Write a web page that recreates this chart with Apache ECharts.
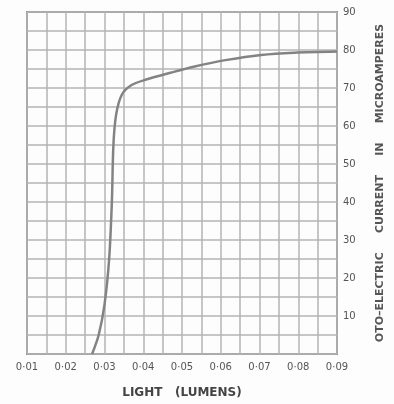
<!DOCTYPE html>
<html>
<head>
<meta charset="utf-8">
<script src="https://cdn.jsdelivr.net/npm/echarts@6/dist/echarts.min.js"></script>
<style>
  html, body { margin: 0; padding: 0; background: #fdfdfd; }
  #chart { width: 394px; height: 404px; }
</style>
</head>
<body>
<div id="chart"></div>
<script>
// light in lumens vs photo-electric current (microamperes)
var lightLumens = [0.0268, 0.0285, 0.0300, 0.0312, 0.0319, 0.0323, 0.0330, 0.0345, 0.0370,
                   0.0410, 0.0470, 0.0530, 0.0616, 0.0704, 0.0789, 0.0900];
var currentUA = [0, 5, 13, 25, 40, 55, 63, 68.3, 70.8,
                 72.3, 74, 75.6, 77.4, 78.7, 79.3, 79.6];
var xTicks = [0.01, 0.02, 0.03, 0.04, 0.05, 0.06, 0.07, 0.08, 0.09];
var yTicks = [10, 20, 30, 40, 50, 60, 70, 80, 90];

var points = lightLumens.map(function (x, i) { return [x, currentUA[i]]; });

var gridColor = '#b4b4b4';
var chart = echarts.init(document.getElementById('chart'));
var option = {
    backgroundColor: '#fdfdfd',
    animation: false,
    grid: {
        left: 27, top: 12, right: 57, bottom: 49,
        show: true,
        borderColor: '#909090',
        borderWidth: 2
    },
    xAxis: {
        type: 'value',
        min: xTicks[0],
        max: xTicks[xTicks.length - 1],
        interval: 0.01,
        name: 'LIGHT   (LUMENS)',
        nameLocation: 'middle',
        nameGap: 33,
        nameTextStyle: { color: '#444', fontSize: 12, fontWeight: 'bold', fontFamily: 'DejaVu Sans' },
        axisLine: { show: false },
        axisTick: { show: false },
        axisLabel: {
            color: '#555',
            fontSize: 10,
            fontFamily: 'DejaVu Sans',
            margin: 8,
            formatter: function (v) {
                return '0·0' + Math.round(v * 100);
            }
        },
        splitLine: { show: true, lineStyle: { color: gridColor, width: 1.5 } },
        minorTick: { show: false, splitNumber: 2 },
        minorSplitLine: { show: true, lineStyle: { color: gridColor, width: 1.5 } }
    },
    yAxis: {
        type: 'value',
        position: 'right',
        min: 0,
        max: 90,
        interval: 10,
        name: 'OTO–ELECTRIC     CURRENT     IN     MICROAMPERES',
        nameLocation: 'middle',
        nameRotate: 90,
        nameGap: 38,
        nameTextStyle: { color: '#555', fontSize: 11, fontWeight: 'bold', fontFamily: 'DejaVu Sans' },
        axisLine: { show: false },
        axisTick: { show: false },
        axisLabel: {
            color: '#555',
            fontSize: 10,
            fontFamily: 'DejaVu Sans',
            margin: 6,
            formatter: function (v) { return yTicks.indexOf(v) >= 0 ? String(v) : ''; }
        },
        splitLine: { show: true, lineStyle: { color: gridColor, width: 1.5 } },
        minorTick: { show: false, splitNumber: 2 },
        minorSplitLine: { show: true, lineStyle: { color: gridColor, width: 1.5 } }
    },
    series: [{
        type: 'line',
        data: points,
        smooth: 0.3,
        showSymbol: false,
        lineStyle: { color: '#838383', width: 2.5 }
    }]
};
chart.setOption(option);
</script>
</body>
</html>
